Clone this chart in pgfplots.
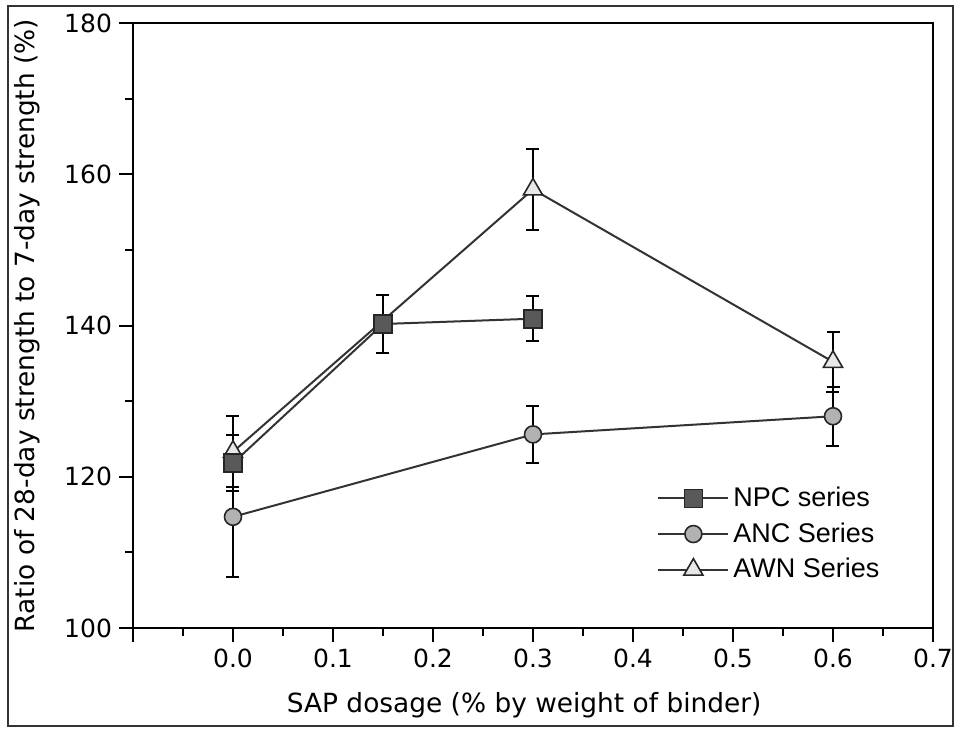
\documentclass[border=0pt]{standalone}
\usepackage{fontspec}
\setmainfont{DejaVu Sans}
\newfontfamily\legfont{Liberation Sans}
\usepackage{pgfplots}
\usepackage{pgfplotstable}
\pgfplotsset{compat=1.18}

\pgfplotstableread{
x y e
0 121.8 3.7
0.15 140.2 3.8
0.3 140.9 3.0
}\npc
\pgfplotstableread{
x y e
0 114.7 8.0
0.3 125.6 3.8
0.6 128.0 3.9
}\anc
\pgfplotstableread{
x y e
0 123.3 4.7
0.3 158.0 5.4
0.6 135.2 4.0
}\awn

\begin{document}
\begin{tikzpicture}
\useasboundingbox (-66.5pt,-50.5pt) rectangle (411pt,314pt);
\draw[line width=0.9pt, black!80] (-62.5pt,-49pt) rectangle (410pt,311pt);
\begin{axis}[
  at={(0,0)}, anchor=south west,
  scale only axis, width=400pt, height=302.5pt,
  xmin=-0.1, xmax=0.7, ymin=100, ymax=180,
  xtick={-0.1,0,0.1,0.2,0.3,0.4,0.5,0.6,0.7},
  xticklabels={,0.0,0.1,0.2,0.3,0.4,0.5,0.6,0.7},
  ytick={100,120,140,160,180},
  minor x tick num=1, minor y tick num=1,
  xtick pos=bottom, ytick pos=left,
  tick align=outside,
  major tick length=7pt, minor tick length=4pt,
  axis line style={line width=1pt},
  every tick/.style={line width=1pt, black},
  tick label style={font=\fontsize{12.5}{14}\selectfont},
  /pgf/number format/assume math mode=true,
  xlabel={SAP dosage (\% by weight of binder)},
  ylabel={Ratio of 28-day strength to 7-day strength (\%)},
  label style={font=\fontsize{13.2}{15}\selectfont},
  xlabel style={at={(axis description cs:0.489,-0.127)}, anchor=center},
  ylabel style={at={(axis description cs:-0.1325,0.5)}, anchor=center},
  reverse legend,
  legend style={draw=none, fill=none, at={(axis cs:0.424,119.2)}, anchor=north west,
    font=\legfont\fontsize{13.5}{15}\selectfont, inner sep=0pt, row sep=2.5pt,
    cells={anchor=west}},
  legend image code/.code={\draw[mark repeat=2,mark phase=2] plot coordinates {(0pt,0pt) (17.5pt,0pt) (35pt,0pt)};},
  error bars/error bar style={line width=1pt, black},
  error bars/error mark options={rotate=90, mark size=3.25pt, line width=1pt, black},
]
\addplot[color=black!80, line width=1pt, mark=triangle*, mark size=5.5pt, mark options={fill=black!9, draw=black!85, line width=0.8pt},
  error bars/.cd, y dir=both, y explicit]
  table[x=x, y=y, y error=e] {\awn};
\addlegendentry{AWN Series}
\addplot[color=black!80, line width=1pt, mark=*, mark size=4.25pt, mark options={fill=black!30, draw=black!85, line width=0.8pt},
  error bars/.cd, y dir=both, y explicit]
  table[x=x, y=y, y error=e] {\anc};
\addlegendentry{ANC Series}
\addplot[color=black!80, line width=1pt, mark=square*, mark size=4.5pt, mark options={fill=black!65, draw=black!85, line width=0.8pt},
  error bars/.cd, y dir=both, y explicit]
  table[x=x, y=y, y error=e] {\npc};
\addlegendentry{NPC series}
\end{axis}
\end{tikzpicture}
\end{document}
